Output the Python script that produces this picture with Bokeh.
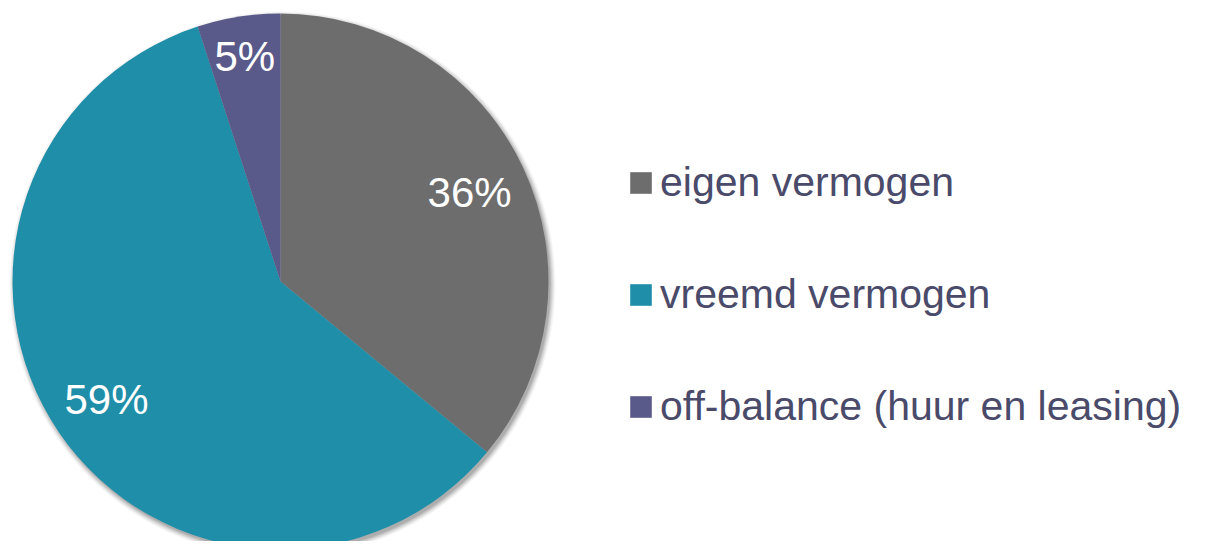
import math
from bokeh.plotting import figure
from bokeh.models import Range1d, ColumnDataSource, Legend, LegendItem
from bokeh.core.properties import value
from bokeh.embed import file_html
from bokeh.resources import INLINE

categories = ["eigen vermogen", "vreemd vermogen", "off-balance (huur en leasing)"]
shares = [36, 59, 5]
labels = ["36%", "59%", "5%"]
colors = ["#6d6d6d", "#1f8ea9", "#5a5a8a"]

W, H = 1190, 541
CX, CY, R = 280, 260, 268
label_r = [0.78, 0.785, 0.85]

p = figure(width=W, height=H, x_range=Range1d(0, W), y_range=Range1d(0, H),
           output_backend="svg", toolbar_location=None, min_border=0)
p.axis.visible = False
p.grid.visible = False
p.outline_line_color = None
p.background_fill_color = "white"

# soft shadow
for dr, a in [(5, 0.03), (4, 0.04), (3, 0.05), (2, 0.06), (1, 0.08), (0, 0.10)]:
    p.circle(x=CX + 2, y=CY - 3, radius=R + dr, fill_color="black", fill_alpha=a, line_color=None)

total = sum(shares)
starts, ends, lx, ly = [], [], [], []
cum = 0.0
for s, rf in zip(shares, label_r):
    a0 = math.pi / 2 - 2 * math.pi * cum / total
    a1 = math.pi / 2 - 2 * math.pi * (cum + s) / total
    starts.append(a0)
    ends.append(a1)
    mid = (a0 + a1) / 2
    lx.append(CX + R * rf * math.cos(mid))
    ly.append(CY + R * rf * math.sin(mid))
    cum += s

src = ColumnDataSource(dict(start=starts, end=ends, color=colors, cat=categories,
                            lx=lx, ly=ly, label=labels))
wr = p.wedge(x=CX, y=CY, radius=R, start_angle="start", end_angle="end", direction="clock",
             fill_color="color", line_color=None, source=src)

p.text(x="lx", y="ly", text="label", source=src, text_color="white",
       text_font=value("Liberation Sans"), text_font_size="42px",
       text_align="center", text_baseline="middle")

items = [LegendItem(label=c, renderers=[wr], index=i) for i, c in enumerate(categories)]
legend = Legend(items=items, location=(627, 111), orientation="vertical",
                glyph_width=27, glyph_height=27, label_standoff=6, spacing=65,
                padding=0, margin=0, border_line_color=None, background_fill_alpha=0,
                label_text_font="Liberation Sans", label_text_font_size="41px",
                label_text_color="#4a4a6a", label_text_baseline="middle")
p.add_layout(legend, "center")

open("out.html", "w").write(file_html(p, INLINE))
